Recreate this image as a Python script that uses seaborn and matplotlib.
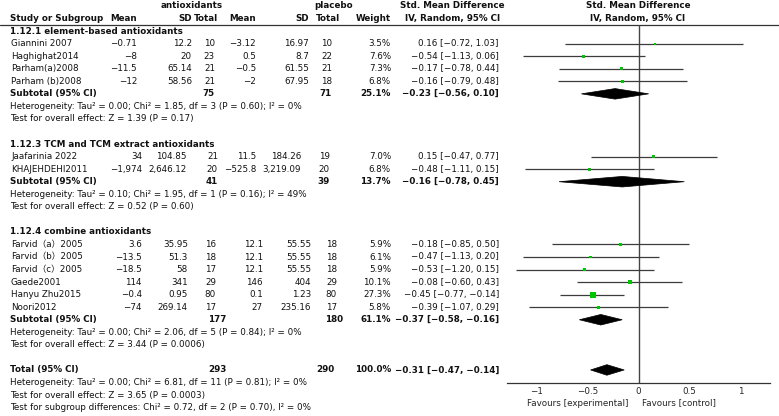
"""
Forest plot: antioxidants vs placebo, Std. Mean Difference (IV, Random, 95% CI)
"""

import numpy as np
import pandas as pd
import matplotlib
matplotlib.use("Agg")
import matplotlib.pyplot as plt
import seaborn as sns
from matplotlib.patches import Polygon

# ============================================================================
# DATA
# ============================================================================
SUBGROUPS = [
    "1.12.1 element-based antioxidants",
    "1.12.3 TCM and TCM extract antioxidants",
    "1.12.4 combine antioxidants",
]
STUDY_GROUP = [0, 0, 0, 0, 1, 1, 2, 2, 2, 2, 2, 2]
STUDIES = [
    "Giannini 2007", "Haghighat2014", "Parham(a)2008", "Parham (b)2008",
    "Jaafarinia 2022", "KHAJEHDEHI2011",
    "Farvid（a）2005", "Farvid（b）2005", "Farvid（c）2005",
    "Gaede2001", "Hanyu Zhu2015", "Noori2012",
]
EXP_MEAN = [-0.71, -8, -11.5, -12, 34, -1974, 3.6, -13.5, -18.5, 114, -0.4, -74]
EXP_SD = [12.2, 20, 65.14, 58.56, 104.85, 2646.12, 35.95, 51.3, 58, 341, 0.95, 269.14]
EXP_N = [10, 23, 21, 21, 21, 20, 16, 18, 17, 29, 80, 17]
CTL_MEAN = [-3.12, 0.5, -0.5, -2, 11.5, -525.8, 12.1, 12.1, 12.1, 146, 0.1, 27]
CTL_SD = [16.97, 8.7, 61.55, 67.95, 184.26, 3219.09, 55.55, 55.55, 55.55, 404, 1.23, 235.16]
CTL_N = [10, 22, 21, 18, 19, 20, 18, 18, 18, 29, 80, 17]
WEIGHT = [3.5, 7.6, 7.3, 6.8, 7.0, 6.8, 5.9, 6.1, 5.9, 10.1, 27.3, 5.8]
SMD = [0.16, -0.54, -0.17, -0.16, 0.15, -0.48, -0.18, -0.47, -0.53, -0.08, -0.45, -0.39]
CI_LO = [-0.72, -1.13, -0.78, -0.79, -0.47, -1.11, -0.85, -1.13, -1.20, -0.60, -0.77, -1.07]
CI_HI = [1.03, 0.06, 0.44, 0.48, 0.77, 0.15, 0.50, 0.20, 0.15, 0.43, -0.14, 0.29]

SUB_N_EXP = [75, 41, 177]
SUB_N_CTL = [71, 39, 180]
SUB_WEIGHT = [25.1, 13.7, 61.1]
SUB_SMD = [-0.23, -0.16, -0.37]
SUB_LO = [-0.56, -0.78, -0.58]
SUB_HI = [0.10, 0.45, -0.16]
SUB_HET = [
    "Heterogeneity: Tau² = 0.00; Chi² = 1.85, df = 3 (P = 0.60); I² = 0%",
    "Heterogeneity: Tau² = 0.10; Chi² = 1.95, df = 1 (P = 0.16); I² = 49%",
    "Heterogeneity: Tau² = 0.00; Chi² = 2.06, df = 5 (P = 0.84); I² = 0%",
]
SUB_TEST = [
    "Test for overall effect: Z = 1.39 (P = 0.17)",
    "Test for overall effect: Z = 0.52 (P = 0.60)",
    "Test for overall effect: Z = 3.44 (P = 0.0006)",
]

TOTAL_N_EXP = 293
TOTAL_N_CTL = 290
TOTAL_WEIGHT = 100.0
TOTAL_SMD, TOTAL_LO, TOTAL_HI = -0.31, -0.47, -0.14
TOTAL_NOTES = [
    "Heterogeneity: Tau² = 0.00; Chi² = 6.81, df = 11 (P = 0.81); I² = 0%",
    "Test for overall effect: Z = 3.65 (P = 0.0003)",
    "Test for subgroup differences: Chi² = 0.72, df = 2 (P = 0.70), I² = 0%",
]

X_TICKS = [-1, -0.5, 0, 0.5, 1]
FAVOURS = ["Favours [experimental]", "Favours [control]"]

# ============================================================================
# LAYOUT (pixels; rows are 12.55 px apart)
# ============================================================================
W, H = 779, 416
ROW0, ROW_H = 6.0, 12.55
LEFT_X = 10
FS = 6.3
LINE_C = "#333333"

# right edges of numeric columns, per section (the sections do not line up)
COLS = [
    dict(m1=137, s1=192, n1=215, m2=256, s2=309, n2=332, sn1=215, sn2=332),
    dict(m1=142, s1=187, n1=218, m2=256, s2=301, n2=330, sn1=218, sn2=330),
    dict(m1=142, s1=188, n1=216, m2=263, s2=311, n2=337, sn1=226, sn2=343),
]
TOT_COLS = dict(n1=227, n2=335)
W_X, CI_X = 391, 499


def row_of(px):
    return (px - ROW0) / ROW_H


def fmt(v):
    return f"{v:,}".replace("-", "−")


def fmt_ci(m, lo, hi):
    return f"{m:.2f} [{lo:.2f}, {hi:.2f}]".replace("-", "−")


sns.set_style("white")
plt.rcParams["font.family"] = ["DejaVu Sans", "Noto Sans CJK SC"]

fig = plt.figure(figsize=(W / 100, H / 100), dpi=100)

# text table axes spans the whole figure
tb = fig.add_axes([0, 0, 1, 1])
tb.set_xlim(0, W)
tb.set_ylim(row_of(H), row_of(0))
tb.axis("off")


def put(x, r, s, ha="left", bold=False):
    tb.text(x, r, s, ha=ha, va="center", fontsize=FS,
            fontweight="bold" if bold else "normal", color="#111111")


# headers
put(192, 0, "antioxidants", ha="center", bold=True)
put(334, 0, "placebo", ha="center", bold=True)
put(452, 0, "Std. Mean Difference", ha="center", bold=True)
put(638, 0, "Std. Mean Difference", ha="center", bold=True)
put(LEFT_X, 1, "Study or Subgroup", bold=True)
c0 = COLS[0]
for x, s in [(c0["m1"], "Mean"), (c0["s1"], "SD"), (c0["n1"] + 3, "Total"),
             (c0["m2"], "Mean"), (c0["s2"], "SD"), (c0["n2"] + 8, "Total"),
             (W_X, "Weight")]:
    put(x, 1, s, ha="right", bold=True)
put(453, 1, "IV, Random, 95% CI", ha="center", bold=True)
put(638, 1, "IV, Random, 95% CI", ha="center", bold=True)
tb.axhline(row_of(25), color=LINE_C, lw=0.9)

# body rows
study_rows = []
sub_rows = []
r = 2
for g, name in enumerate(SUBGROUPS):
    c = COLS[g]
    put(LEFT_X, r, name, bold=True)
    r += 1
    for i in [k for k, sg in enumerate(STUDY_GROUP) if sg == g]:
        put(LEFT_X + 1, r, STUDIES[i])
        put(c["m1"], r, fmt(EXP_MEAN[i]), ha="right")
        put(c["s1"], r, fmt(EXP_SD[i]), ha="right")
        put(c["n1"], r, fmt(EXP_N[i]), ha="right")
        put(c["m2"], r, fmt(CTL_MEAN[i]), ha="right")
        put(c["s2"], r, fmt(CTL_SD[i]), ha="right")
        put(c["n2"], r, fmt(CTL_N[i]), ha="right")
        put(W_X, r, f"{WEIGHT[i]:.1f}%", ha="right")
        put(CI_X, r, fmt_ci(SMD[i], CI_LO[i], CI_HI[i]), ha="right")
        study_rows.append(r)
        r += 1
    put(LEFT_X, r, "Subtotal (95% CI)", bold=True)
    put(c["sn1"], r, fmt(SUB_N_EXP[g]), ha="right", bold=True)
    put(c["sn2"], r, fmt(SUB_N_CTL[g]), ha="right", bold=True)
    put(W_X, r, f"{SUB_WEIGHT[g]:.1f}%", ha="right", bold=True)
    put(CI_X, r, fmt_ci(SUB_SMD[g], SUB_LO[g], SUB_HI[g]), ha="right", bold=True)
    sub_rows.append(r)
    put(LEFT_X, r + 1, SUB_HET[g])
    put(LEFT_X, r + 2, SUB_TEST[g])
    r += 4

total_row = r
put(LEFT_X, r, "Total (95% CI)", bold=True)
put(TOT_COLS["n1"], r, fmt(TOTAL_N_EXP), ha="right", bold=True)
put(TOT_COLS["n2"], r, fmt(TOTAL_N_CTL), ha="right", bold=True)
put(W_X, r, f"{TOTAL_WEIGHT:.1f}%", ha="right", bold=True)
put(CI_X, r, fmt_ci(TOTAL_SMD, TOTAL_LO, TOTAL_HI), ha="right", bold=True)
for k, note in enumerate(TOTAL_NOTES):
    put(LEFT_X, r + 1 + k, note)

# ============================================================================
# FOREST PANEL
# ============================================================================
x_left, x_right, y_top, y_axis = 507, 770, 25, 383
ax = fig.add_axes([x_left / W, (H - y_axis) / H, (x_right - x_left) / W, (y_axis - y_top) / H])
ax.set_xlim(-1.29, 1.29)
ax.set_ylim(row_of(y_axis), row_of(y_top))
ax.patch.set_alpha(0)

df = pd.DataFrame({"study": STUDIES, "row": study_rows, "smd": SMD,
                   "lo": CI_LO, "hi": CI_HI, "weight": WEIGHT})

ax.axvline(0, color="#444444", lw=1.0, zorder=1)
ax.hlines(df["row"], df["lo"], df["hi"], color="#3c3c3c", lw=0.9, zorder=2)
wmin, wmax = df["weight"].min(), df["weight"].max()
sns.scatterplot(data=df, x="smd", y="row", size="weight",
                sizes=(0.7 * wmin, 0.7 * wmax), size_norm=(wmin, wmax),
                marker="s", color="#00c400", linewidth=0, legend=False,
                zorder=3, ax=ax)

half_h = 0.42
for rr, m, lo, hi in zip(sub_rows + [total_row], SUB_SMD + [TOTAL_SMD],
                         SUB_LO + [TOTAL_LO], SUB_HI + [TOTAL_HI]):
    ax.add_patch(Polygon([(lo, rr), (m, rr - half_h), (hi, rr), (m, rr + half_h)],
                         closed=True, facecolor="black", edgecolor="black",
                         lw=0.5, zorder=4))

for s in ["top", "right", "left"]:
    ax.spines[s].set_visible(False)
ax.spines["bottom"].set_color(LINE_C)
ax.spines["bottom"].set_linewidth(0.9)
ax.set_xticks(X_TICKS)
ax.set_xticklabels([f"{t:g}".replace("-", "−") for t in X_TICKS], fontsize=FS)
ax.tick_params(axis="x", direction="inout", length=5, width=0.8,
               color=LINE_C, pad=0.5)
ax.set_yticks([])
ax.set_xlabel("")
ax.set_ylabel("")

fav_row = row_of(403)
ax.text(-0.1, fav_row, FAVOURS[0], ha="right", va="center", fontsize=FS, clip_on=False)
ax.text(0.035, fav_row, FAVOURS[1], ha="left", va="center", fontsize=FS, clip_on=False)

plt.savefig("out.png", dpi=100)
